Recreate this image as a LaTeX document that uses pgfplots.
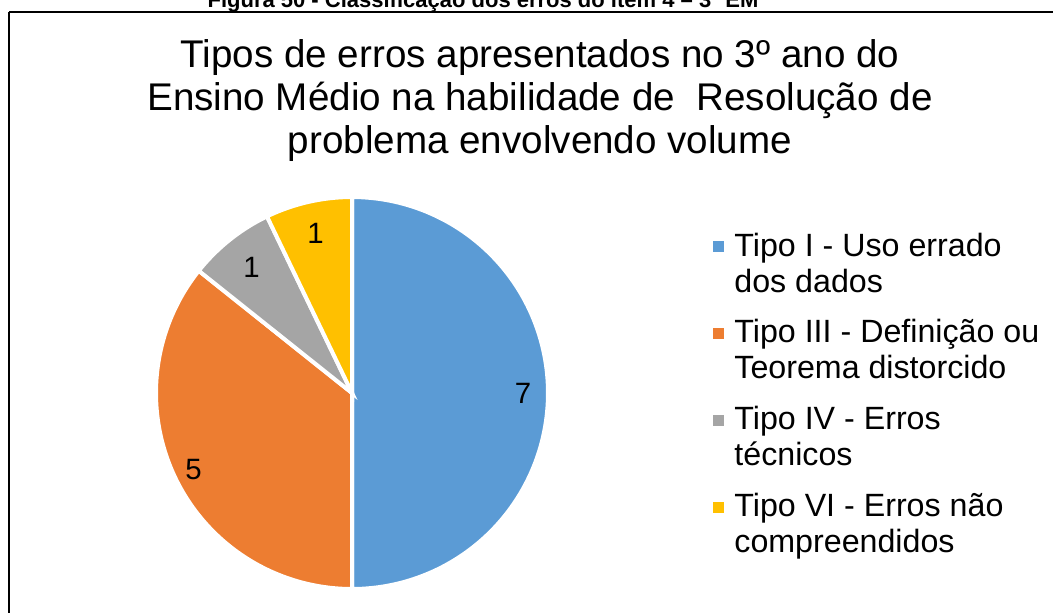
\documentclass[border=0pt]{standalone}
\usepackage{pgfplots}
\usepackage{pgfplotstable}
\usepackage{fontspec}
\setmainfont{Liberation Sans}
\pgfplotsset{compat=1.18}

\definecolor{tipoI}{HTML}{5B9BD5}
\definecolor{tipoIII}{HTML}{ED7D31}
\definecolor{tipoIV}{HTML}{A5A5A5}
\definecolor{tipoVI}{HTML}{FFC000}

% erros por tipo (3o ano EM, item 4)
\pgfplotstableread[col sep=comma]{
tipo,valor
Tipo I,7
Tipo III,5
Tipo IV,1
Tipo VI,1
}\dados

\begin{document}
\begin{tikzpicture}
\useasboundingbox (0,0) rectangle (526.5pt,306pt);
\clip (0,0) rectangle (526.5pt,306pt);

\pgfplotstablegetelem{0}{valor}\of\dados \let\vA\pgfplotsretval
\pgfplotstablegetelem{1}{valor}\of\dados \let\vB\pgfplotsretval
\pgfplotstablegetelem{2}{valor}\of\dados \let\vC\pgfplotsretval
\pgfplotstablegetelem{3}{valor}\of\dados \let\vD\pgfplotsretval
\pgfmathsetmacro{\tot}{\vA+\vB+\vC+\vD}
\pgfmathsetmacro{\aA}{360*\vA/\tot}
\pgfmathsetmacro{\aB}{\aA+360*\vB/\tot}
\pgfmathsetmacro{\aC}{\aB+360*\vC/\tot}
% angulos medios para os rotulos
\pgfmathsetmacro{\mA}{\aA/2}
\pgfmathsetmacro{\mB}{(\aA+\aB)/2}
\pgfmathsetmacro{\mC}{(\aB+\aC)/2}
\pgfmathsetmacro{\mD}{(\aC+360)/2}

\begin{axis}[
    at={(0,0)}, anchor=south west,
    scale only axis,
    width=526.5pt, height=306pt,
    xmin=0, xmax=1053, ymin=0, ymax=612,
    y dir=reverse,
    hide axis,
    clip=false,
    samples=120,
    variable=\t,
]
% moldura
\draw[black, line width=0.7pt] (axis cs:9,12) -- (axis cs:1070,12);
\draw[black, line width=1pt] (axis cs:9,12) -- (axis cs:9,640);

% legenda da figura (cortada no topo)
\node[anchor=base, inner sep=0pt, font=\bfseries\fontsize{11}{12}\selectfont] at (axis cs:483,7.5)
  {Figura 50 - Classificação dos erros do item 4 – 3º EM};

% titulo (base = ultima linha)
\node[anchor=base, align=center, inner sep=0pt, font=\fontsize{19.3}{21.5}\selectfont] at (axis cs:540,153)
  {Tipos de erros apresentados no 3º ano do\\
   Ensino Médio na habilidade de\ \ Resolução de\\
   problema envolvendo volume};

% setores
\addplot[fill=tipoI, draw=white, line width=2pt, domain=0:\aA]
  ({352+196*sin(t)},{393-196*cos(t)}) -- (axis cs:352,393) -- cycle;
\addplot[fill=tipoIII, draw=white, line width=2pt, domain=\aA:\aB]
  ({352+196*sin(t)},{393-196*cos(t)}) -- (axis cs:352,393) -- cycle;
\addplot[fill=tipoIV, draw=white, line width=2pt, domain=\aB:\aC]
  ({352+196*sin(t)},{393-196*cos(t)}) -- (axis cs:352,393) -- cycle;
\addplot[fill=tipoVI, draw=white, line width=2pt, domain=\aC:360]
  ({352+196*sin(t)},{393-196*cos(t)}) -- (axis cs:352,393) -- cycle;

% rotulos de dados
\node[font=\fontsize{14.7}{16}\selectfont] at (axis cs:{352+171*sin(\mA)},{393-171*cos(\mA)}) {\vA};
\node[font=\fontsize{14.7}{16}\selectfont] at (axis cs:{352+176*sin(\mB)},{393-176*cos(\mB)}) {\vB};
\node[font=\fontsize{14.7}{16}\selectfont] at (axis cs:{352+161*sin(\mC)},{393-161*cos(\mC)}) {\vC};
\node[font=\fontsize{14.7}{16}\selectfont] at (axis cs:{352+164*sin(\mD)},{393-164*cos(\mD)}) {\vD};

% legenda (base = segunda linha de cada item)
\fill[tipoI]   (axis cs:713,241) rectangle (axis cs:724,252);
\fill[tipoIII] (axis cs:713,328) rectangle (axis cs:724,339);
\fill[tipoIV]  (axis cs:713,415) rectangle (axis cs:724,426);
\fill[tipoVI]  (axis cs:713,502) rectangle (axis cs:724,513);
\node[anchor=base west, align=left, inner sep=0pt, font=\fontsize{16.1}{18}\selectfont] at (axis cs:734,292)
  {Tipo I - Uso errado\\dos dados};
\node[anchor=base west, align=left, inner sep=0pt, font=\fontsize{16.1}{18}\selectfont] at (axis cs:734,378)
  {Tipo III - Definição ou\\Teorema distorcido};
\node[anchor=base west, align=left, inner sep=0pt, font=\fontsize{16.1}{18}\selectfont] at (axis cs:734,465)
  {Tipo IV - Erros\\técnicos};
\node[anchor=base west, align=left, inner sep=0pt, font=\fontsize{16.1}{18}\selectfont] at (axis cs:734,552)
  {Tipo VI - Erros não\\compreendidos};
\end{axis}
\end{tikzpicture}
\end{document}
